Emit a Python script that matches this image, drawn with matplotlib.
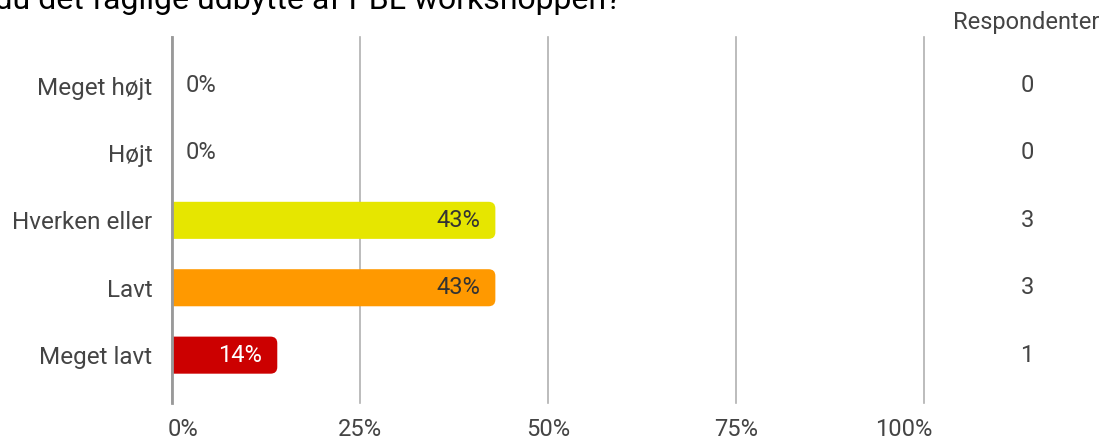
import matplotlib.pyplot as plt
import matplotlib.transforms as mtransforms
from matplotlib.patches import FancyBboxPatch
import numpy as np

plt.rcParams['font.family'] = ['Roboto', 'DejaVu Sans']

categories = ['Meget højt', 'Højt', 'Hverken eller', 'Lavt', 'Meget lavt']
percents = [0, 0, 43, 43, 14]
counts = [0, 0, 3, 3, 1]
colors = ['#e6e600', '#e6e600', '#e6e600', '#ff9900', '#cc0000']
label_colors = ['#333333', '#333333', '#333333', '#333333', '#ffffff']
xticks = [0, 25, 50, 75, 100]

fig = plt.figure(figsize=(11.05, 4.41), dpi=100)
ax = fig.add_axes([172 / 1105, 1 - 403 / 441, 752 / 1105, 366 / 441])

y = np.arange(len(categories))
bar_h = 0.55
for yi, p, c in zip(y, percents, colors):
    if p <= 0:
        continue
    # rounded bar; its left end runs under the axis line and is clipped
    box = FancyBboxPatch((-3, yi - bar_h / 2), p + 3, bar_h,
                         boxstyle='round,pad=0,rounding_size=0.9',
                         mutation_aspect=0.11,
                         facecolor=c, edgecolor='none', zorder=2)
    ax.add_patch(box)

for yi, p, lc in zip(y, percents, label_colors):
    if p > 0:
        ax.text(p - 2, yi, '%d%%' % p, ha='right', va='center',
                fontsize=17, color=lc, zorder=3)
    else:
        ax.text(1.8, yi, '%d%%' % p, ha='left', va='center',
                fontsize=17, color='#444444', zorder=3)

for yi, n in zip(y, counts):
    ax.text(1.137, yi, str(n), transform=ax.get_yaxis_transform(),
            ha='center', va='center', fontsize=17, color='#444444')
ax.text(1.136, 1.04, 'Respondenter', transform=ax.transAxes,
        ha='center', va='center', fontsize=17, color='#444444')

ax.set_xlim(0, 100)
ax.set_ylim(len(categories) - 1 + 0.71, -0.72)
ax.set_yticks(y)
ax.set_yticklabels(categories, fontsize=17.5, color='#444444')
ax.set_xticks(xticks)
ax.set_xticklabels(['%d%%' % t for t in xticks], fontsize=17, color='#444444')
ax.tick_params(axis='both', length=0)
ax.tick_params(axis='y', pad=14)
ax.tick_params(axis='x', pad=11)

labels = ax.get_xticklabels()
labels[0].set_transform(labels[0].get_transform() +
                        mtransforms.ScaledTranslation(11 / 100, 0, fig.dpi_scale_trans))
labels[-1].set_transform(labels[-1].get_transform() +
                         mtransforms.ScaledTranslation(-20 / 100, 0, fig.dpi_scale_trans))

ax.grid(axis='x', color='#b0b0b0', linewidth=1.2, zorder=0)
for gl in ax.get_xgridlines():
    gl.set_clip_on(False)
ax.set_axisbelow(True)
for s in ['top', 'right', 'bottom']:
    ax.spines[s].set_visible(False)
ax.spines['left'].set_color('#999999')
ax.spines['left'].set_linewidth(2)
ax.spines['left'].set_zorder(4)

fig.text(621 / 1105, 1 - 9 / 441, 'Hvordan vurderer du det faglige udbytte af PBL workshoppen?',
         ha='right', va='baseline', fontsize=23, color='#000000')

fig.savefig('out.png', dpi=100)
